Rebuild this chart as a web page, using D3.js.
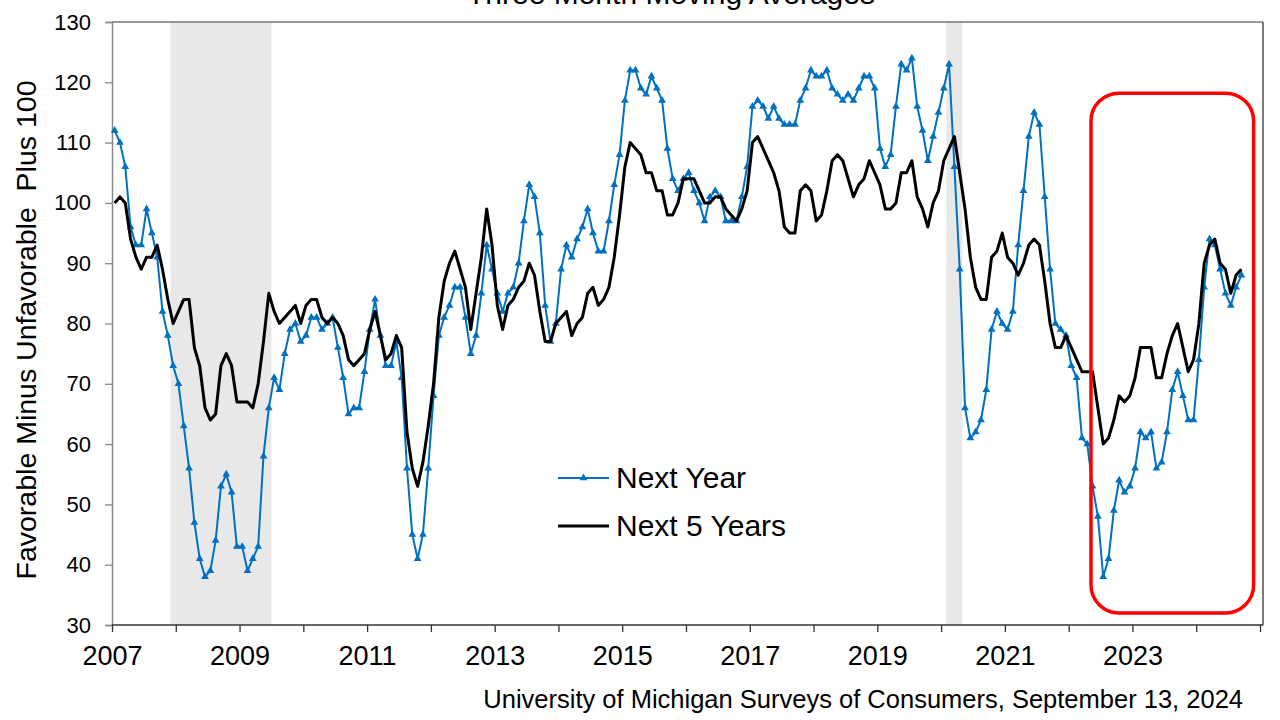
<!DOCTYPE html>
<html>
<head>
<meta charset="utf-8">
<script src="https://cdn.jsdelivr.net/npm/d3@7"></script>
<style>
  html, body { margin: 0; padding: 0; background: #fff; }
  svg { display: block; font-family: "Liberation Sans", Arial, sans-serif; }
</style>
</head>
<body>
<svg id="chart" width="1280" height="720"></svg>
<script>
// ---------------- DATA ----------------
const startYear = 2007; // first monthly observation: January 2007
const title = "Three Month Moving Averages";
const yAxisTitle = "Favorable Minus Unfavorable  Plus 100";
const sourceNote = "University of Michigan Surveys of Consumers, September 13, 2024";
const seriesNames = ["Next Year", "Next 5 Years"];

// Next Year, monthly Jan 2007 .. Sep 2024
const nextYear = [
  112,110,106,96,93,93,99,95,91,82,78,73,        // 2007
  70,63,56,47,41,38,39,44,53,55,52,43,           // 2008
  43,39,41,43,58,66,71,69,75,79,80,77,           // 2009
  78,81,81,79,80,81,76,71,65,66,66,72,           // 2010
  79,84,78,73,73,77,71,56,45,41,45,56,           // 2011
  68,78,81,83,86,86,81,75,78,85,93,89,           // 2012
  85,82,85,86,90,97,103,101,95,83,77,80,         // 2013
  89,93,91,94,96,99,95,92,92,97,103,108,         // 2014
  117,122,122,119,118,121,119,117,109,104,102,104, // 2015
  105,102,100,97,101,102,101,97,97,97,101,106,   // 2016
  116,117,116,114,116,114,113,113,113,117,119,122, // 2017
  121,121,122,119,118,117,118,117,119,121,121,119, // 2018
  109,106,108,116,123,122,124,116,112,107,111,115, // 2019
  119,123,106,89,66,61,62,64,69,79,82,80,        // 2020
  79,82,93,102,111,115,113,101,89,80,79,78,      // 2021
  73,71,61,60,53,48,38,41,49,54,52,53,           // 2022
  56,62,61,62,56,57,62,69,72,68,64,64,           // 2023
  74,86,94,93,89,85,83,86,88                     // 2024
];

// Next 5 Years, monthly Jan 2007 .. Sep 2024
const nextFiveYears = [
  100,101,100,94,91,89,91,91,93,89,84,80,        // 2007
  82,84,84,76,73,66,64,65,73,75,73,67,           // 2008
  67,67,66,70,77,85,82,80,81,82,83,80,           // 2009
  83,84,84,81,80,81,80,78,74,73,74,75,           // 2010
  79,82,78,74,75,78,76,62,56,53,57,63,           // 2011
  70,81,87,90,92,89,86,79,85,91,99,93,           // 2012
  83,79,83,84,86,87,90,88,82,77,77,80,           // 2013
  81,82,78,80,81,85,86,83,84,86,91,98,           // 2014
  106,110,109,108,105,105,102,102,98,98,100,104, // 2015
  104,104,102,100,100,101,101,99,98,97,99,102,   // 2016
  110,111,109,107,105,102,96,95,95,102,103,102,  // 2017
  97,98,102,107,108,107,104,101,103,104,107,105, // 2018
  103,99,99,100,105,105,107,101,99,96,100,102,   // 2019
  107,109,111,105,99,91,86,84,84,91,92,95,       // 2020
  91,90,88,90,93,94,93,87,80,76,76,78,           // 2021
  76,74,72,72,72,66,60,61,64,68,67,68,           // 2022
  71,76,76,76,71,71,75,78,80,76,72,74,           // 2023
  80,90,93,94,90,89,85,88,89                     // 2024
];

// Recession shading (decimal years)
const recessionStart = [2007.917, 2020.083];
const recessionEnd   = [2009.5,   2020.333];

// Highlight box around the recent period (decimal years / index values)
const highlightYears  = [2022.35, 2024.9];
const highlightValues = [32, 118.2];

const yTicks = [30, 40, 50, 60, 70, 80, 90, 100, 110, 120, 130];
const xTickYears = d3.range(2007, 2026);      // tick every year
const xLabelYears = d3.range(2007, 2024, 2);  // label every other year

// ---------------- CHART ----------------
(function () {
const svg = d3.select("#chart");
const mLeft = 112, mRight = 1260, mTop = 22, mBottom = 625;

const x = d3.scaleLinear().domain([2007, 2025]).range([mLeft, mRight]);
const y = d3.scaleLinear().domain([30, 130]).range([mBottom, mTop]);

const blue = "#0070C0";

const toPoints = arr => arr.map((v, i) => ({ t: startYear + (i + 0.5) / 12, v }));
const nyPts = toPoints(nextYear);
const n5Pts = toPoints(nextFiveYears);

// recession shading
svg.append("g").selectAll("rect")
  .data(recessionStart.map((s, i) => ({ s, e: recessionEnd[i] })))
  .join("rect")
  .attr("x", d => x(d.s))
  .attr("width", d => x(d.e) - x(d.s))
  .attr("y", mTop)
  .attr("height", mBottom - mTop)
  .attr("fill", "#e8e8e8");

// frame
const frameRight = x(2025) + 3;
svg.append("line").attr("x1", mLeft).attr("x2", frameRight).attr("y1", mTop).attr("y2", mTop)
  .attr("stroke", "#777").attr("stroke-width", 1.3);
svg.append("line").attr("x1", frameRight).attr("x2", frameRight).attr("y1", mTop).attr("y2", mBottom)
  .attr("stroke", "#333").attr("stroke-width", 1.3);

// y axis
const yAxis = d3.axisLeft(y).tickValues(yTicks).tickSize(7).tickPadding(14).tickFormat(d3.format("d"));
const gy = svg.append("g").attr("transform", `translate(${mLeft},0)`).call(yAxis);
gy.select(".domain").attr("stroke", "#888").attr("stroke-width", 1.5);
gy.selectAll(".tick line").attr("stroke", "#888").attr("stroke-width", 1.3);
gy.selectAll(".tick text").attr("font-size", 22).attr("fill", "#000")
  .attr("font-family", "'Liberation Sans', Arial, sans-serif");

// x axis
const xAxis = d3.axisBottom(x).tickValues(xTickYears).tickSize(7).tickPadding(14)
  .tickFormat(d => xLabelYears.includes(d) ? String(d) : "");
const gx = svg.append("g").attr("transform", `translate(0,${mBottom})`).call(xAxis);
gx.select(".domain").attr("stroke", "#333").attr("stroke-width", 1.5).attr("d", `M${mLeft},0H${frameRight}`);
gx.selectAll(".tick line").attr("stroke", "#333").attr("stroke-width", 1.3);
gx.selectAll(".tick text").attr("font-size", 27).attr("fill", "#000")
  .attr("font-family", "'Liberation Sans', Arial, sans-serif");

// lines
const line = d3.line().x(d => x(d.t)).y(d => y(d.v));

svg.append("path").datum(nyPts)
  .attr("fill", "none").attr("stroke", blue).attr("stroke-width", 2)
  .attr("stroke-linejoin", "round").attr("d", line);

const tri = d3.symbol().type(d3.symbolTriangle).size(26);
svg.append("g").selectAll("path")
  .data(nyPts).join("path")
  .attr("transform", d => `translate(${x(d.t)},${y(d.v)})`)
  .attr("d", tri).attr("fill", blue);

svg.append("path").datum(n5Pts)
  .attr("fill", "none").attr("stroke", "#000").attr("stroke-width", 3)
  .attr("stroke-linejoin", "round").attr("d", line);

// highlight box
svg.append("rect")
  .attr("x", x(highlightYears[0]))
  .attr("width", x(highlightYears[1]) - x(highlightYears[0]))
  .attr("y", y(highlightValues[1]))
  .attr("height", y(highlightValues[0]) - y(highlightValues[1]))
  .attr("rx", 28).attr("ry", 28)
  .attr("fill", "none").attr("stroke", "#ff0000").attr("stroke-width", 3.5);

// legend
const lg = svg.append("g");
lg.append("line").attr("x1", 558).attr("x2", 609).attr("y1", 478).attr("y2", 478)
  .attr("stroke", blue).attr("stroke-width", 2);
lg.append("path").attr("transform", "translate(583.5,478)").attr("d", tri).attr("fill", blue);
lg.append("text").attr("x", 616).attr("y", 488).attr("font-size", 30).text(seriesNames[0]);
lg.append("line").attr("x1", 558).attr("x2", 609).attr("y1", 526).attr("y2", 526)
  .attr("stroke", "#000").attr("stroke-width", 3);
lg.append("text").attr("x", 616).attr("y", 536).attr("font-size", 30).text(seriesNames[1]);

// title (partially clipped at the top, as in the reference)
svg.append("text").attr("x", 671).attr("y", 4).attr("text-anchor", "middle")
  .attr("font-size", 30).text(title);

// y axis title
svg.append("text")
  .attr("transform", `translate(36,330) rotate(-90)`)
  .attr("text-anchor", "middle").attr("font-size", 28.5)
  .style("white-space", "pre").text(yAxisTitle);

// source
svg.append("text").attr("x", 1243).attr("y", 708).attr("text-anchor", "end")
  .attr("font-size", 25.5).text(sourceNote);
})();
</script>
</body>
</html>
